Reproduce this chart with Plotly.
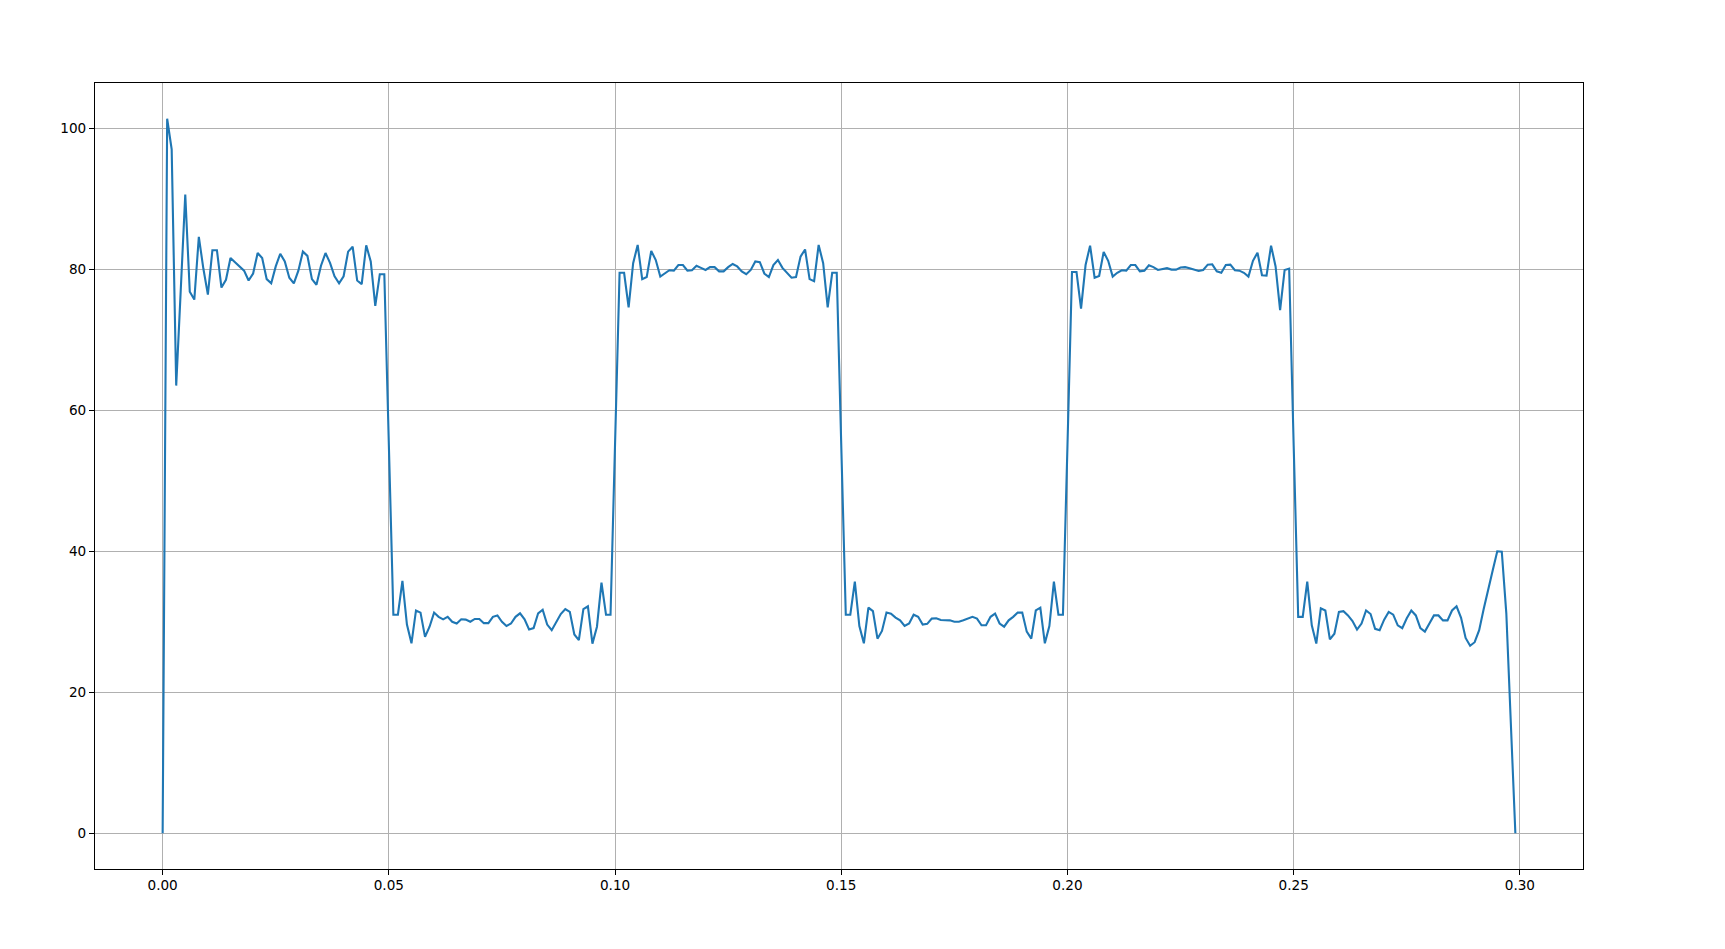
import plotly.graph_objects as go

# sample grid (seconds)
T_START = 0.0
T_STEP = 0.001

# signal values, read segment by segment (50 samples each)
high_1 = [0.0, 101.35, 97.0, 63.5, 77.0, 90.6, 76.8, 75.7, 84.6, 80.1,
          76.4, 82.7, 82.7, 77.4, 78.5, 81.6, 81.0, 80.4, 79.8, 78.4,
          79.4, 82.3, 81.6, 78.6, 78.0, 80.4, 82.2, 81.1, 78.8, 78.0,
          79.8, 82.5, 81.9, 78.6, 77.8, 80.5, 82.3, 80.9, 79.0, 78.0,
          79.0, 82.5, 83.2, 78.4, 77.9, 83.4, 81.1, 74.8, 79.3, 79.3]
low_1 = [55.0, 31.0, 31.0, 35.8, 29.6, 26.95, 31.6, 31.3, 27.85, 29.3,
         31.3, 30.7, 30.35, 30.7, 30.0, 29.75, 30.35, 30.3, 30.0, 30.4,
         30.4, 29.8, 29.8, 30.7, 30.9, 30.0, 29.4, 29.75, 30.7, 31.2,
         30.35, 28.9, 29.1, 31.2, 31.7, 29.6, 28.8, 30.0, 31.1, 31.8,
         31.4, 28.2, 27.4, 31.8, 32.2, 26.9, 29.3, 35.55, 31.0, 31.0]
high_2 = [55.0, 79.5, 79.5, 74.6, 80.85, 83.45, 78.6, 78.9, 82.6, 81.3,
          78.96, 79.4, 79.86, 79.8, 80.6, 80.6, 79.8, 79.86, 80.5, 80.2,
          79.9, 80.3, 80.3, 79.7, 79.7, 80.3, 80.75, 80.4, 79.7, 79.3,
          79.9, 81.1, 81.0, 79.4, 78.9, 80.6, 81.3, 80.2, 79.5, 78.8,
          78.9, 81.8, 82.8, 78.6, 78.3, 83.45, 80.85, 74.6, 79.5, 79.5]
low_2 = [55.0, 31.0, 31.0, 35.7, 29.4, 26.95, 32.0, 31.5, 27.6, 28.7,
         31.3, 31.15, 30.6, 30.2, 29.4, 29.75, 31.0, 30.7, 29.6, 29.7,
         30.45, 30.5, 30.25, 30.25, 30.2, 30.0, 30.0, 30.2, 30.45, 30.7,
         30.45, 29.5, 29.5, 30.7, 31.15, 29.75, 29.3, 30.2, 30.7, 31.3,
         31.3, 28.6, 27.6, 31.6, 32.0, 26.95, 29.4, 35.7, 31.0, 31.0]
high_3 = [55.0, 79.6, 79.6, 74.4, 80.6, 83.35, 78.8, 79.05, 82.45, 81.2,
          78.96, 79.5, 79.86, 79.8, 80.6, 80.6, 79.7, 79.8, 80.55, 80.3,
          79.9, 80.05, 80.15, 79.95, 79.95, 80.25, 80.3, 80.15, 79.95, 79.75,
          79.9, 80.65, 80.7, 79.7, 79.5, 80.6, 80.65, 79.86, 79.8, 79.5,
          78.96, 81.2, 82.35, 79.15, 79.1, 83.35, 80.4, 74.2, 79.9, 80.1]
low_3 = [55.0, 30.7, 30.7, 35.7, 29.5, 26.9, 31.9, 31.6, 27.5, 28.3,
         31.4, 31.5, 30.9, 30.1, 28.9, 29.75, 31.6, 31.1, 29.0, 28.8,
         30.3, 31.4, 31.0, 29.5, 29.1, 30.5, 31.6, 30.9, 29.1, 28.6,
         29.75, 30.9, 30.9, 30.2, 30.2, 31.6, 32.2, 30.55, 27.7, 26.6,
         27.1, 28.8, 31.8, 34.8, 37.3, 40.0, 39.95, 31.2, 15.6, 0.0]

x_ticks = [0.00, 0.05, 0.10, 0.15, 0.20, 0.25, 0.30]
y_ticks = [0, 20, 40, 60, 80, 100]

values = high_1 + low_1 + high_2 + low_2 + high_3 + low_3
times = [T_START + i * T_STEP for i in range(len(values))]

fig = go.Figure()
fig.add_trace(go.Scatter(x=times, y=values, mode="lines",
                         line=dict(color="#1f77b4", width=2.1),
                         showlegend=False))

xspan = times[-1] - times[0]
yspan = max(values) - min(values)

axis_common = dict(
    showgrid=True, gridcolor="#b0b0b0", gridwidth=1,
    zeroline=False,
    showline=True, linecolor="black", linewidth=1, mirror=True,
    ticks="outside", ticklen=5, tickcolor="black", tickwidth=1,
    tickfont=dict(family="DejaVu Sans", size=13.6, color="black"),
)

fig.update_layout(
    width=1725, height=949,
    margin=dict(l=87, r=150, t=75, b=88),
    paper_bgcolor="white", plot_bgcolor="white",
    xaxis=dict(range=[times[0] - 0.05 * xspan, times[-1] + 0.05 * xspan],
               tickvals=x_ticks, ticktext=[f"{v:.2f}" for v in x_ticks],
               ticklabelstandoff=-1,
               **axis_common),
    yaxis=dict(range=[min(values) - 0.05 * yspan, max(values) + 0.05 * yspan],
               tickvals=y_ticks, ticktext=[str(v) for v in y_ticks],
               **axis_common),
)

fig.write_html("out.html")
